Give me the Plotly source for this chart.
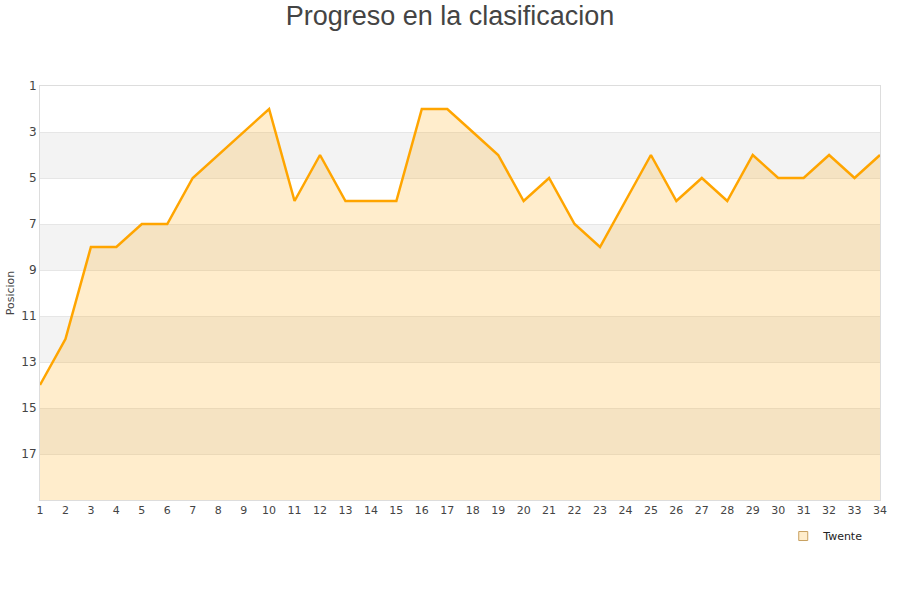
import plotly.graph_objects as go

jornadas = list(range(1, 35))
posicion = [14, 12, 8, 8, 7, 7, 5, 4, 3, 2, 6, 4, 6, 6, 6, 2, 2, 3, 4, 6,
            5, 7, 8, 6, 4, 6, 5, 6, 4, 5, 5, 4, 5, 4]
equipo = "Twente"
y_ticks = [1, 3, 5, 7, 9, 11, 13, 15, 17]
bands = [(3, 5), (7, 9), (11, 13), (15, 17)]
y_bottom = 19

fig = go.Figure()
fig.add_trace(go.Scatter(x=jornadas, y=[y_bottom] * len(jornadas), mode="lines",
                         line=dict(width=0), showlegend=False, hoverinfo="skip"))
fig.add_trace(go.Scatter(x=jornadas, y=posicion, mode="lines", fill="tonexty",
                         fillcolor="rgba(255,165,0,0.2)",
                         line=dict(color="#FFA500", width=2.5),
                         showlegend=False, name=equipo))
fig.add_trace(go.Scatter(x=[None], y=[None], mode="markers", name=equipo,
                         marker=dict(symbol="square", size=9, color="#FFEDCC",
                                     line=dict(color="#c8a060", width=1))))

for a, b in bands:
    fig.add_shape(type="rect", xref="paper", yref="y", x0=0, x1=1, y0=a, y1=b,
                  fillcolor="#f3f3f3", line=dict(width=0), layer="below")

fig.update_layout(
    width=900, height=600,
    margin=dict(l=40, r=20, t=86, b=100),
    plot_bgcolor="white", paper_bgcolor="white",
    title=dict(text="Progreso en la clasificacion", x=0.5, xanchor="center",
               y=1 - 16 / 600, yanchor="middle",
               font=dict(family="Liberation Sans, Arial", size=27, color="#444444")),
    font=dict(family="DejaVu Sans", size=11, color="#444444"),
    xaxis=dict(range=[1, 34], tickmode="array", tickvals=jornadas, automargin=False,
               showgrid=False, zeroline=False, showline=True, linecolor="#dddddd",
               mirror=True, ticks="", ticklen=0,
               tickfont=dict(family="DejaVu Sans", size=11, color="#444444")),
    yaxis=dict(range=[y_bottom, 1], tickmode="array", tickvals=y_ticks, automargin=False,
               showgrid=True, gridcolor="#e6e6e6", zeroline=False,
               showline=True, linecolor="#dddddd", mirror=True,
               title=dict(text="Posicion", font=dict(size=11, color="#444444"), standoff=4),
               tickfont=dict(family="DejaVu Sans", size=12, color="#444444")),
    legend=dict(x=0.986, y=-0.052, xanchor="right", yanchor="top",
                font=dict(size=11, color="#222222"), bgcolor="rgba(0,0,0,0)"),
)

fig.write_html("out.html", config={"displayModeBar": False},
               post_script="document.body.style.margin='0';")
